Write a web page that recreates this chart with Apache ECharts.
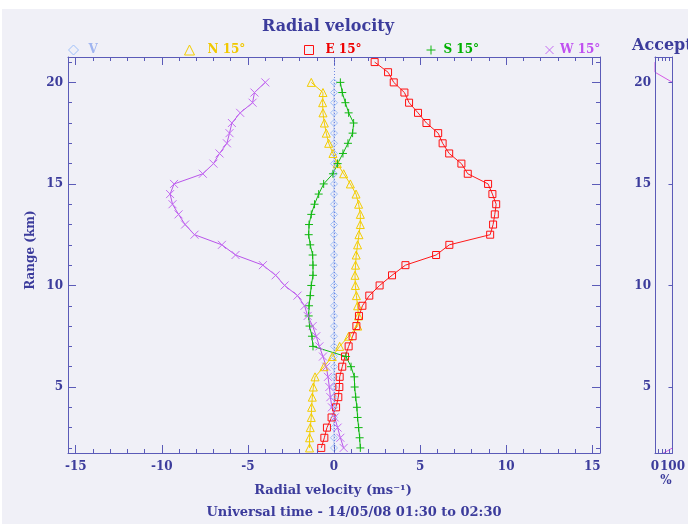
<!DOCTYPE html>
<html>
<head>
<meta charset="utf-8">
<script src="https://cdn.jsdelivr.net/npm/echarts@6/dist/echarts.min.js"></script>
<style>
  html, body { margin: 0; padding: 0; background: #ffffff; }
  #chart { width: 688px; height: 524px; }
</style>
</head>
<body>
<div id="chart"></div>
<script>
// Range gates (km), top to bottom
const rangeKm = [21.0, 20.5, 20.0, 19.5, 19.0, 18.5, 18.0, 17.5, 17.0, 16.5, 16.0,
  15.5, 15.0, 14.5, 14.0, 13.5, 13.0, 12.5, 12.0, 11.5, 11.0, 10.5, 10.0, 9.5,
  9.0, 8.5, 8.0, 7.5, 7.0, 6.5, 6.0, 5.5, 5.0, 4.5, 4.0, 3.5, 3.0, 2.5, 2.0];

// Radial velocity (m/s) per beam, aligned with rangeKm (null = no value)
const velV = [null, null,
  0.0, 0.0, 0.0, 0.0, 0.0, 0.0, 0.0, 0.0, 0.0, 0.0, 0.0, 0.0, 0.0, 0.0, 0.0, 0.0,
  0.0, 0.0, 0.0, 0.0, 0.0, 0.0, 0.0, 0.0, 0.0, 0.0, 0.0, 0.0, 0.0, 0.0, 0.0, 0.0,
  0.0, 0.0, 0.0, 0.0, 0.0];
const velN = [null, null,
  -1.32, -0.64, -0.66, -0.64, -0.56, -0.45, -0.31, -0.06, 0.19, 0.56, 0.95, 1.28,
  1.43, 1.53, 1.53, 1.45, 1.37, 1.29, 1.25, 1.22, 1.24, 1.30, 1.37, 1.42, 1.38,
  0.85, 0.33, -0.10, -0.58, -1.10, -1.20, -1.26, -1.30, -1.32, -1.38, -1.42, -1.42];
const velE = [2.36, 3.14,
  3.47, 4.09, 4.36, 4.88, 5.37, 6.05, 6.31, 6.69, 7.40, 7.77, 8.95, 9.20, 9.42,
  9.34, 9.24, 9.07, 6.70, 5.93, 4.15, 3.37, 2.65, 2.05, 1.65, 1.45, 1.30, 1.08,
  0.85, 0.64, 0.48, 0.33, 0.31, 0.25, 0.12, -0.14, -0.41, -0.56, -0.74];
const velS = [null, null,
  0.37, 0.48, 0.66, 0.85, 1.14, 1.08, 0.81, 0.52, 0.21, -0.06, -0.60, -0.89,
  -1.13, -1.32, -1.45, -1.47, -1.38, -1.24, -1.22, -1.22, -1.32, -1.38, -1.45,
  -1.47, -1.42, -1.28, -1.22, 0.70, 0.99, 1.18, 1.20, 1.26, 1.33, 1.37, 1.43,
  1.49, 1.53];
const velW = [null, null,
  -3.99, -4.62, -4.73, -5.45, -5.93, -6.07, -6.22, -6.65, -7.00, -7.62, -9.29,
  -9.52, -9.38, -9.03, -8.65, -8.10, -6.51, -5.72, -4.13, -3.39, -2.87, -2.12,
  -1.71, -1.53, -1.24, -1.03, -0.85, -0.64, -0.45, -0.35, -0.27, -0.21, -0.12,
  0.04, 0.21, 0.37, 0.56];

// Acceptance (%) per range gate
const accRange = [21.0, 20.5, 20.0, 19.5, 19.0, 18.5, 18.0, 17.5, 17.0, 16.5, 16.0,
  15.5, 15.0, 14.5, 14.0, 13.5, 13.0, 12.5, 12.0, 11.5, 11.0, 10.5, 10.0, 9.5,
  9.0, 8.5, 8.0, 7.5, 7.0, 6.5, 6.0, 5.5, 5.0, 4.5, 4.0, 3.5, 3.0, 2.5, 2.0, 1.5];
const accPct = [0, 0, 100, 100, 100, 100, 100, 100, 100, 100, 100, 100, 100, 100,
  100, 100, 100, 100, 100, 100, 100, 100, 100, 100, 100, 100, 100, 100, 100, 100,
  100, 100, 100, 100, 100, 100, 100, 100, 100, 0];

// Tick labels
const xTickLabels = [-15, -10, -5, 0, 5, 10, 15];
const yTickLabels = [5, 10, 15, 20];
const pctTickLabels = [0, 100];

const FONT = 'DejaVu Serif';
const INK = '#3c3c9c';
const AXIS = '#5b5bb8';

const xMinor = [];
for (let v = -15; v <= 15; v++) xMinor.push(v);
const yMinor = [];
for (let v = 2; v <= 21; v++) yMinor.push(v);

function toPairs(vel, ranges) {
  const out = [];
  ranges.forEach((r, i) => { if (vel[i] !== null) out.push([vel[i], r]); });
  return out;
}

const labelStyle = { color: INK, fontFamily: FONT, fontWeight: 'bold', fontSize: 12 };

function valAxis(o) {
  return Object.assign({
    type: 'value',
    splitLine: { show: false },
    axisLine: { show: false, onZero: false, lineStyle: { color: AXIS, width: 1 } },
    axisTick: { show: false },
    axisLabel: { show: false },
    z: 4
  }, o);
}
function line(show) { return { show: show, onZero: false, lineStyle: { color: AXIS, width: 1 } }; }
function ticks(values, len) {
  return { show: true, inside: true, length: len, customValues: values, lineStyle: { color: AXIS, width: 1 } };
}

const X_MIN = -15.45, X_MAX = 15.45, Y_MIN = 1.75, Y_MAX = 21.25;

const xAxes = [
  valAxis({ gridIndex: 0, position: 'bottom', min: X_MIN, max: X_MAX, axisLine: line(true),
    axisTick: ticks(xTickLabels, 8),
    axisLabel: Object.assign({ show: true, margin: 8, customValues: xTickLabels }, labelStyle) }),
  valAxis({ gridIndex: 0, position: 'bottom', min: X_MIN, max: X_MAX, axisTick: ticks(xMinor, 4) }),
  valAxis({ gridIndex: 0, position: 'top', min: X_MIN, max: X_MAX, axisLine: line(true), axisTick: ticks(xTickLabels, 8) }),
  valAxis({ gridIndex: 0, position: 'top', min: X_MIN, max: X_MAX, axisTick: ticks(xMinor, 4) }),
  valAxis({ gridIndex: 1, position: 'bottom', min: 0, max: 100, axisLine: line(true),
    axisTick: ticks([20, 40, 60, 80], 4),
    axisLabel: Object.assign({ show: true, margin: 8, customValues: pctTickLabels }, labelStyle) }),
  valAxis({ gridIndex: 1, position: 'top', min: 0, max: 100, axisLine: line(true), axisTick: ticks([20, 40, 60, 80], 4) })
];

const yAxes = [
  valAxis({ gridIndex: 0, position: 'left', min: Y_MIN, max: Y_MAX, axisLine: line(true),
    axisTick: ticks(yTickLabels, 8),
    axisLabel: Object.assign({ show: true, margin: 5, customValues: yTickLabels }, labelStyle) }),
  valAxis({ gridIndex: 0, position: 'left', min: Y_MIN, max: Y_MAX, axisTick: ticks(yMinor, 4) }),
  valAxis({ gridIndex: 0, position: 'right', min: Y_MIN, max: Y_MAX, axisLine: line(true), axisTick: ticks(yTickLabels, 8) }),
  valAxis({ gridIndex: 0, position: 'right', min: Y_MIN, max: Y_MAX, axisTick: ticks(yMinor, 4) }),
  valAxis({ gridIndex: 1, position: 'left', min: Y_MIN, max: Y_MAX, axisLine: line(true),
    axisLabel: Object.assign({ show: true, margin: 4, customValues: yTickLabels }, labelStyle) }),
  valAxis({ gridIndex: 1, position: 'right', min: Y_MIN, max: Y_MAX, axisLine: line(true), axisTick: ticks(yTickLabels, 4) })
];

const PLUS = 'path://M5 0L5 10M0 5L10 5';
const CROSS = 'path://M0 0L10 10M10 0L0 10';

const beams = [
  { name: 'V', vel: velV, symbol: 'diamond', size: [7, 7], mark: '#9ec0fa', line: '#7b93e2', text: '#9fb4f0',
    dash: 'dotted', legend: { left: 68, w: 10, h: 10, pad: 5 } },
  { name: 'N 15°', vel: velN, symbol: 'triangle', size: 8, mark: '#f3cd00', line: '#f3cd00', text: '#f0c800',
    dash: 'solid', legend: { left: 184, w: 10, h: 10, pad: 8 } },
  { name: 'E 15°', vel: velE, symbol: 'rect', size: 7, mark: '#ff1010', line: '#ff1a1a', text: '#ee0000',
    dash: 'solid', legend: { left: 304, w: 9, h: 9, pad: 7 } },
  { name: 'S 15°', vel: velS, symbol: PLUS, size: 8, mark: '#10b810', line: '#10b810', text: '#00b000',
    dash: 'solid', legend: { left: 426, w: 9, h: 9, pad: 3 } },
  { name: 'W 15°', vel: velW, symbol: CROSS, size: 8, mark: '#c46cf2', line: '#b955ea', text: '#c050f0',
    dash: 'solid', legend: { left: 545, w: 9, h: 8, pad: 1 } }
];

const series = beams.map(b => {
  const s = {
    name: b.name,
    type: 'line',
    xAxisIndex: 0,
    yAxisIndex: 0,
    data: toPairs(b.vel, rangeKm),
    symbol: b.symbol,
    symbolSize: b.size,
    showAllSymbol: true,
    clip: true,
    animation: false,
    itemStyle: { color: 'transparent', borderColor: b.mark, borderWidth: 1 },
    lineStyle: { color: b.line, width: 1, type: b.dash },
    emphasis: { disabled: true }
  };
  if (b.name === 'V') {
    // zero-velocity reference spanning the whole range axis
    s.markLine = {
      silent: true, symbol: ['none', 'none'], label: { show: false },
      lineStyle: { color: '#6f88e0', width: 1, type: [1, 2] },
      data: [{ xAxis: 0 }]
    };
  }
  return s;
});

series.push({
  name: 'Acceptance',
  type: 'line',
  xAxisIndex: 4,
  yAxisIndex: 4,
  data: toPairs(accPct, accRange),
  symbol: 'none',
  clip: true,
  z: 1,
  animation: false,
  lineStyle: { color: '#d65ae6', width: 1 },
  emphasis: { disabled: true }
});

const legends = beams.map(b => ({
  left: b.legend.left,
  top: 44,
  padding: 0,
  itemWidth: b.legend.w,
  itemHeight: b.legend.h,
  selectedMode: false,
  data: [{
    name: b.name,
    icon: b.symbol,
    itemStyle: { color: 'transparent', borderColor: b.mark, borderWidth: 1 }
  }],
  textStyle: { color: b.text, fontFamily: FONT, fontWeight: 'bold', fontSize: 12, padding: [0, 0, 0, b.legend.pad] }
}));

const option = {
  backgroundColor: '#f0f0f7',
  animation: false,
  title: {
    text: 'Radial velocity',
    left: 328,
    top: 19,
    textAlign: 'center',
    padding: 0,
    textStyle: { color: INK, fontFamily: FONT, fontWeight: 'bold', fontSize: 16 }
  },
  legend: legends,
  grid: [
    { left: 68, top: 57, width: 532, height: 396 },
    { left: 655, top: 57, width: 22, height: 396 }
  ],
  xAxis: xAxes,
  yAxis: yAxes,
  series: series,
  graphic: [
    { type: 'rect', left: 0, top: 0, shape: { width: 688, height: 9 }, style: { fill: '#ffffff' }, silent: true },
    { type: 'rect', left: 0, top: 0, shape: { width: 2, height: 524 }, style: { fill: '#ffffff' }, silent: true },
    { type: 'text', x: 31, y: 250, rotation: Math.PI / 2,
      style: { text: 'Range (km)', fill: INK, font: 'bold 12px "DejaVu Serif"', align: 'center', verticalAlign: 'middle' } },
    { type: 'text', x: 333, y: 491,
      style: { text: 'Radial velocity (ms⁻¹)', fill: INK, font: 'bold 13px "DejaVu Serif"', align: 'center', verticalAlign: 'middle' } },
    { type: 'text', x: 354, y: 513,
      style: { text: 'Universal time - 14/05/08 01:30 to 02:30', fill: INK, font: 'bold 13px "DejaVu Serif"', align: 'center', verticalAlign: 'middle' } },
    { type: 'text', x: 632, y: 46,
      style: { text: 'Acceptance', fill: INK, font: 'bold 16px "DejaVu Serif"', align: 'left', verticalAlign: 'middle' } },
    { type: 'text', x: 666, y: 481,
      style: { text: '%', fill: INK, font: 'bold 12px "DejaVu Serif"', align: 'center', verticalAlign: 'middle' } }
  ]
};

const chart = echarts.init(document.getElementById('chart'), null, { renderer: 'canvas' });
chart.setOption(option);
</script>
</body>
</html>
